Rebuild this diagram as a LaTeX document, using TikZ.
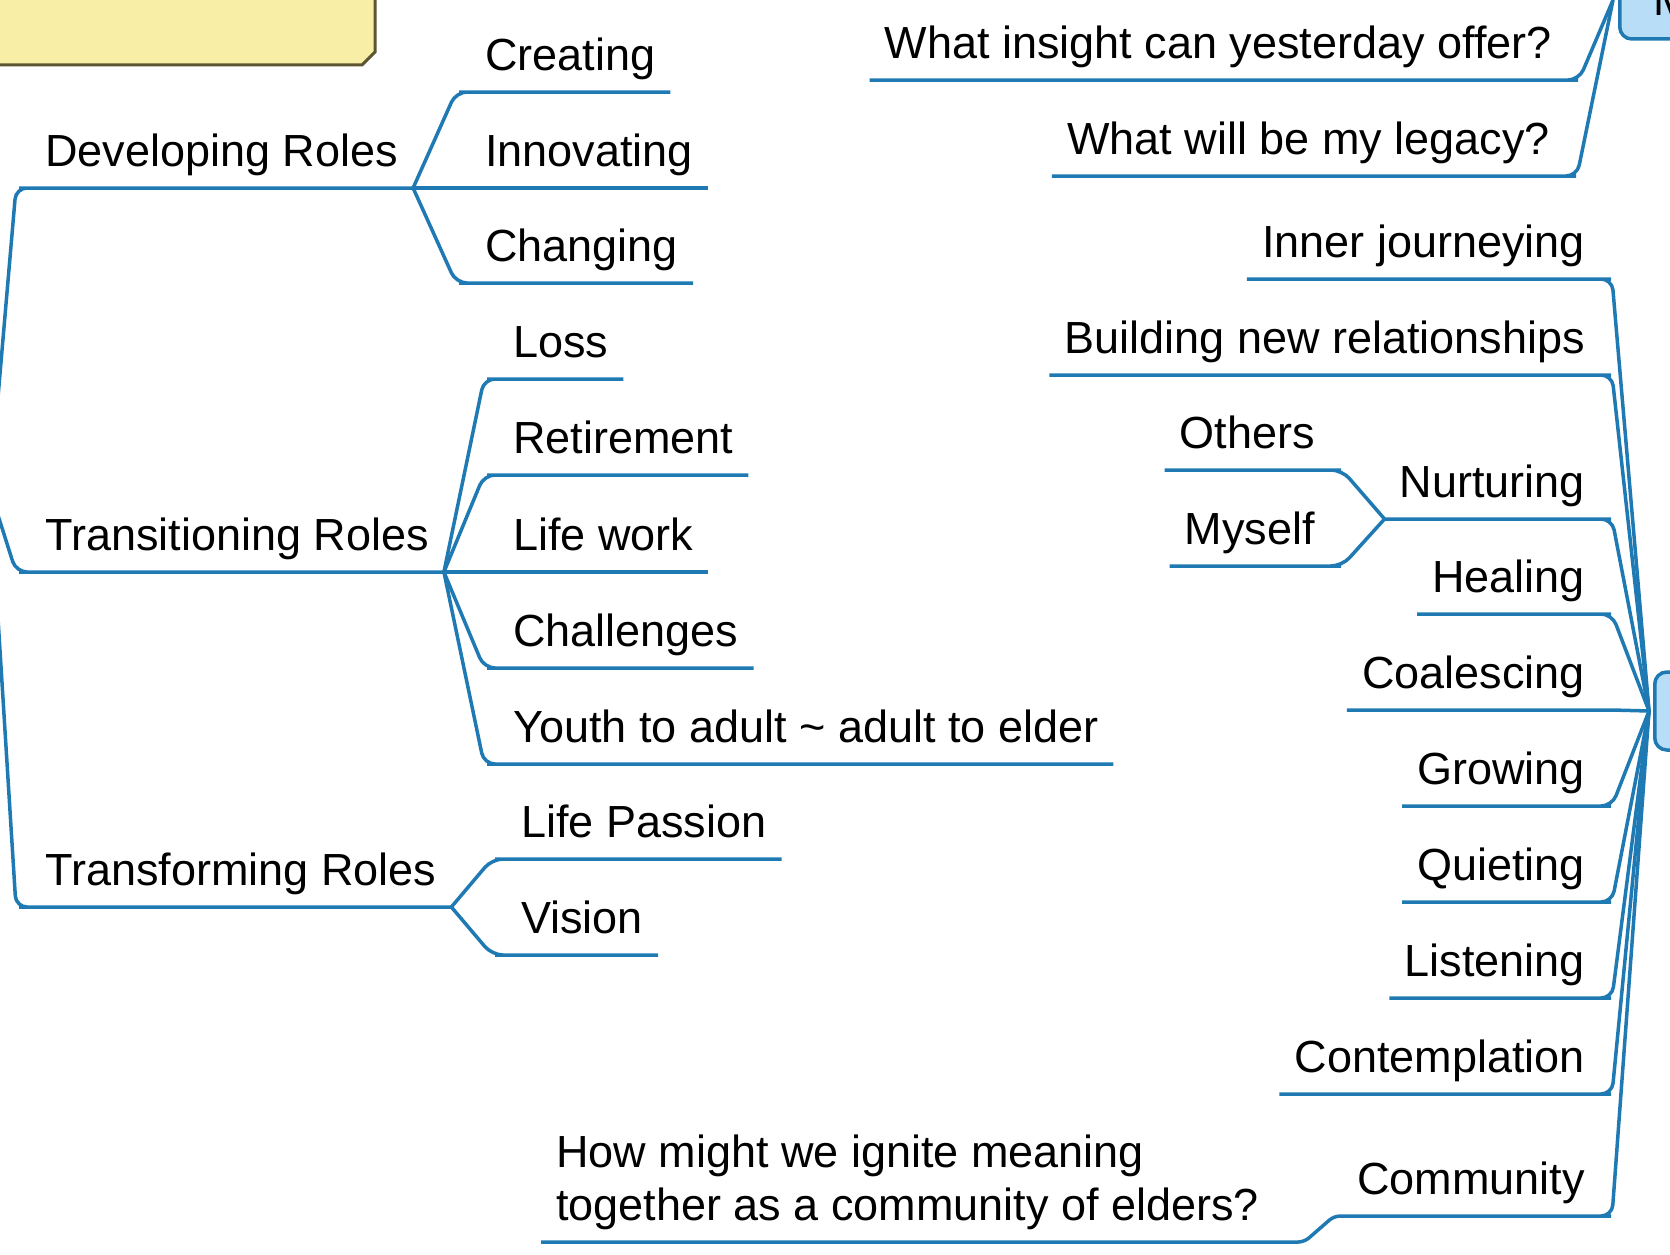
\documentclass[tikz,border=0pt]{standalone}
\usepackage{fontspec}
\setmainfont{Liberation Sans}
\usetikzlibrary{positioning}

\definecolor{twigblue}{HTML}{1F7AB4}
\definecolor{hubfill}{HTML}{B8DDF6}
\definecolor{notefill}{HTML}{F8EEA6}
\definecolor{notedraw}{HTML}{5B5631}

\begin{document}
\begin{tikzpicture}[x=1pt,y=-1pt]
	\tikzset{
		leaf/.style={inner xsep=15pt, inner ysep=0pt, text depth=21pt, font=\fontsize{45}{53}\selectfont},
		twig/.style={draw=twigblue, line width=3.5pt, rounded corners=11pt},
		hub/.style={draw=twigblue, fill=hubfill, line width=3.5pt, rounded corners=12pt, minimum height=78pt, font=\fontsize{45}{53}\selectfont}
	}
	\useasboundingbox (0,0) rectangle (1670,1255);
	\clip (0,0) rectangle (1670,1255);

	\draw[fill=notefill, draw=notedraw, line width=3pt] (-20,-20) -- (375,-20) -- (375,52) -- (362,65) -- (-20,65) -- cycle;

	\node[hub, anchor=west, inner xsep=34pt] (past) at (1618,0) {M};
	\node[hub, anchor=west, minimum width=80pt] (self) at (1653,711) {};
	\coordinate (root) at (-10,490);

	% left side
	\node[leaf, anchor=south west] (dev) at (30,188) {Developing Roles};
	\node[leaf, anchor=south west] (cre) at (470,92) {Creating};
	\node[leaf, anchor=south west] (inn) at (470,188) {Innovating};
	\node[leaf, anchor=south west] (cha) at (470,283) {Changing};
	\node[leaf, anchor=south west] (tra) at (30,572) {Transitioning Roles};
	\node[leaf, anchor=south west] (los) at (498,379) {Loss};
	\node[leaf, anchor=south west] (ret) at (498,475) {Retirement};
	\node[leaf, anchor=south west] (lif) at (498,572) {Life work};
	\node[leaf, anchor=south west] (chl) at (498,668) {Challenges};
	\node[leaf, anchor=south west] (you) at (498,764) {Youth to adult \textasciitilde{} adult to elder};
	\node[leaf, anchor=south west] (tfm) at (30,907) {Transforming Roles};
	\node[leaf, anchor=south west] (pas) at (506,859) {Life Passion};
	\node[leaf, anchor=south west] (vis) at (506,955) {Vision};

	% right side
	\node[leaf, anchor=south east] (ins) at (1567,80) {What insight can yesterday offer?};
	\node[leaf, anchor=south east] (leg) at (1565,176) {What will be my legacy?};
	\foreach \nm/\txt/\yy in {inj/Inner journeying/279, bnr/Building new relationships/375,
		nur/Nurturing/519, hea/Healing/614, coa/Coalescing/710, gro/Growing/806,
		qui/Quieting/902, lis/Listening/998, con/Contemplation/1094, com/Community/1216}
		\node[leaf, anchor=south east] (\nm) at (1600,\yy) {\txt};
	\node[leaf, anchor=south east] (oth) at (1330,470) {Others};
	\node[leaf, anchor=south east] (mys) at (1330,566) {Myself};
	\node[leaf, anchor=south west, align=left] (ask) at (541,1242) {How might we ignite meaning\\together as a community of elders?};

	\foreach \c in {dev,tra,tfm}
		\draw[twig] (root) -- ([xshift=-14pt]\c.south west) -- (\c.south west) -- (\c.south east);
	\foreach \c in {cre,inn,cha}
		\draw[twig] (dev.south east) -- ([xshift=-14pt]\c.south west) -- (\c.south west) -- (\c.south east);
	\foreach \c in {los,ret,lif,chl,you}
		\draw[twig] (tra.south east) -- ([xshift=-14pt]\c.south west) -- (\c.south west) -- (\c.south east);
	\foreach \c in {pas,vis}
		\draw[twig] (tfm.south east) -- ([xshift=-14pt]\c.south west) -- (\c.south west) -- (\c.south east);

	\foreach \c in {ins,leg}
		\draw[twig] ([xshift=-5pt]past.west) -- ([xshift=12pt]\c.south east) -- (\c.south east) -- (\c.south west);
	\foreach \c in {inj,bnr,nur,hea,coa,gro,qui,lis,con,com}
		\draw[twig] ([xshift=-4pt]self.west) -- ([xshift=12pt]\c.south east) -- (\c.south east) -- (\c.south west);
	\foreach \c in {oth,mys}
		\draw[twig] (nur.south west) -- ([xshift=12pt]\c.south east) -- (\c.south east) -- (\c.south west);
	\draw[twig, rounded corners=6pt] (com.south west) -- ++(-8,0) -- ([xshift=30pt]ask.south east) -- (ask.south east) -- (ask.south west);
\end{tikzpicture}
\end{document}
